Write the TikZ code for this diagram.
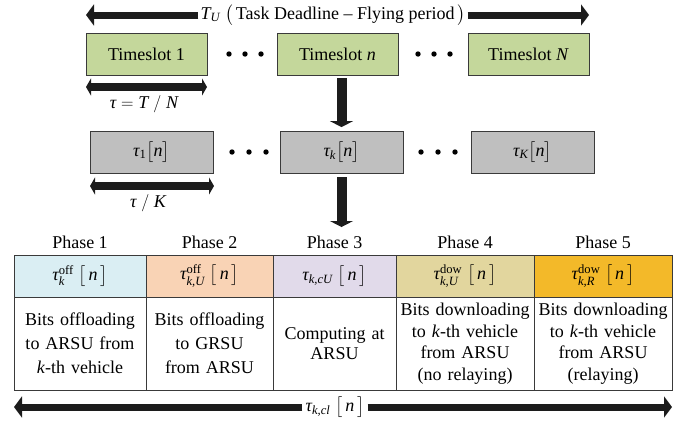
\documentclass[tikz,border=0pt]{standalone}
\usepackage{amsmath}
\usepackage{fontspec}
\setmainfont{Liberation Serif}
\usetikzlibrary{arrows.meta}
\newcommand{\vi}[1]{\text{\itshape #1}}
\newcommand{\vu}[1]{\text{\upshape #1}}
\definecolor{tsgreen}{HTML}{C4D79B}
\definecolor{boxgray}{HTML}{BFBFBF}
\definecolor{boxline}{HTML}{3A3A3A}
\definecolor{arrowblk}{HTML}{1C1C1C}
\definecolor{pone}{HTML}{DAEEF3}
\definecolor{ptwo}{HTML}{F9D3B5}
\definecolor{pthree}{HTML}{E1DAEA}
\definecolor{pfour}{HTML}{E2D69E}
\definecolor{pfive}{HTML}{F3B929}
\tikzset{
  txt/.style={font=\fontsize{18}{22}\selectfont, text=black},
  tsbox/.style={txt, draw=boxline, line width=0.8pt, fill=tsgreen, minimum width=121pt, minimum height=42pt, inner sep=0pt},
  gbox/.style={txt, draw=boxline, line width=0.8pt, fill=boxgray, minimum width=123pt, minimum height=42pt, inner sep=0pt},
  hcell/.style={txt, draw=boxline, line width=0.8pt, minimum height=42pt, inner sep=0pt, outer sep=0pt, anchor=north west},
  bcell/.style={txt, draw=boxline, line width=0.8pt, fill=white, minimum height=93pt, inner sep=0pt, outer sep=0pt, anchor=north west, align=center},
  plabel/.style={txt, inner sep=0pt},
  bigone/.style={line width=7pt, draw=arrowblk, -{Triangle[length=8pt,width=21pt]}},
  smalldbl/.style={line width=7.5pt, draw=arrowblk, {Triangle[length=5pt,width=17pt]}-{Triangle[length=5pt,width=17pt]}},
  downarr/.style={line width=10pt, draw=arrowblk, -{Triangle[length=6pt,width=23pt]}},
  dot/.style={fill=black}
}
\begin{document}
\begin{tikzpicture}[x=1pt,y=1pt]
\useasboundingbox (0,0) rectangle (692,-424);

% top arrow
\node[txt, inner xsep=2pt, inner ysep=0pt] (topt) at (333,-15) {$\vi{T}_{\vi{U}}\;\bigl(\,\vu{Task Deadline -- Flying period}\,\bigr)$};
\coordinate (topL) at (86,-15);
\coordinate (topR) at (589,-15);
\draw[bigone] (topt.west) -- (topL);
\draw[bigone] (topt.east) -- (topR);

% timeslots
\node[tsbox] (ts1) at (146.5,-54) {Timeslot 1};
\node[tsbox] (tsn) at (337.5,-54) {Timeslot \textit{n}};
\node[tsbox] (tsN) at (528.5,-54) {Timeslot \textit{N}};
\foreach \x in {229,245,261,418,434,450} \fill[dot] (\x,-54) circle (2.7);

% tau = T/N
\coordinate (a1L) at (86,-87);
\coordinate (a1R) at (207,-87);
\draw[smalldbl] (a1L) -- (a1R);
\node[txt] (tauTN) at (144,-104) {$\vi{τ} = \vi{T} \;/\; \vi{N}$};

% gray boxes
\node[gbox] (t1) at (151.5,-152) {$\vi{τ}_{\vu{1}}\bigl[\vi{n}\bigr]$};
\node[gbox] (tk) at (341.5,-152) {$\vi{τ}_{\vi{k}}\bigl[\vi{n}\bigr]$};
\node[gbox] (tK) at (532.5,-152) {$\vi{τ}_{\vi{K}}\bigl[\vi{n}\bigr]$};
\foreach \x in {232,249,266,421,438,455} \fill[dot] (\x,-152) circle (2.7);

\draw[downarr] ([xshift=4pt,yshift=-3pt]tsn.south) -- ([yshift=3.5pt]tk.north);

% tau/K
\coordinate (a2L) at (90,-186);
\coordinate (a2R) at (214,-186);
\draw[smalldbl] (a2L) -- (a2R);
\node[txt] (tauK) at (148,-203) {$\vi{τ} \;/\; \vi{K}$};

% down arrow 2
\coordinate (tip2) at (341.5,-227);
\draw[downarr] ([yshift=-4pt]tk.south) -- (tip2);

% table
\node[hcell, fill=pone,   minimum width=132pt] (h1) at (14,-255)  {$\vi{τ}_{\vi{k}}^{\vu{off}}\;\bigl[\,\vi{n}\,\bigr]$};
\node[hcell, fill=ptwo,   minimum width=127pt] (h2) at (146,-255) {$\vi{τ}_{\vi{k,U}}^{\vu{off}}\;\bigl[\,\vi{n}\,\bigr]$};
\node[hcell, fill=pthree, minimum width=123pt] (h3) at (273,-255) {$\vi{τ}_{\vi{k,cU}}\;\bigl[\,\vi{n}\,\bigr]$};
\node[hcell, fill=pfour,  minimum width=138pt] (h4) at (396,-255) {$\vi{τ}_{\vi{k,U}}^{\vu{dow}}\;\bigl[\,\vi{n}\,\bigr]$};
\node[hcell, fill=pfive,  minimum width=138pt] (h5) at (534,-255) {$\vi{τ}_{\vi{k,R}}^{\vu{dow}}\;\bigl[\,\vi{n}\,\bigr]$};

\node[bcell, text width=132pt, font=\fontsize{18}{24}\selectfont] (b1) at (14,-297)  {Bits offloading\\to ARSU from\\\textit{k}-th vehicle};
\node[bcell, text width=127pt, font=\fontsize{18}{24}\selectfont] (b2) at (146,-297) {Bits offloading\\to GRSU\\from ARSU};
\node[bcell, text width=123pt, font=\fontsize{18}{20.5}\selectfont] (b3) at (273,-297) {Computing at\\ARSU};
\node[bcell, text width=138pt, font=\fontsize{18}{21.5}\selectfont] (b4) at (396,-297) {Bits downloading\\to \textit{k}-th vehicle\\from ARSU\\(no relaying)};
\node[bcell, text width=138pt, font=\fontsize{18}{21.5}\selectfont] (b5) at (534,-297) {Bits downloading\\to \textit{k}-th vehicle\\from ARSU\\(relaying)};

\node[plabel] (ph1) at (80,-242)  {Phase 1};
\node[plabel] (ph2) at (209.5,-242) {Phase 2};
\node[plabel] (ph3) at (334.5,-242) {Phase 3};
\node[plabel] (ph4) at (465,-242) {Phase 4};
\node[plabel] (ph5) at (603,-242) {Phase 5};

% bottom arrow
\node[txt, inner xsep=3pt, inner ysep=0pt] (bott) at (335,-407) {$\vi{τ}_{\vi{k,cl}}\;\bigl[\,\vi{n}\,\bigr]$};
\coordinate (botL) at (14,-407);
\coordinate (botR) at (672,-407);
\draw[bigone] (bott.west) -- (botL);
\draw[bigone] (bott.east) -- (botR);
\end{tikzpicture}
\end{document}
